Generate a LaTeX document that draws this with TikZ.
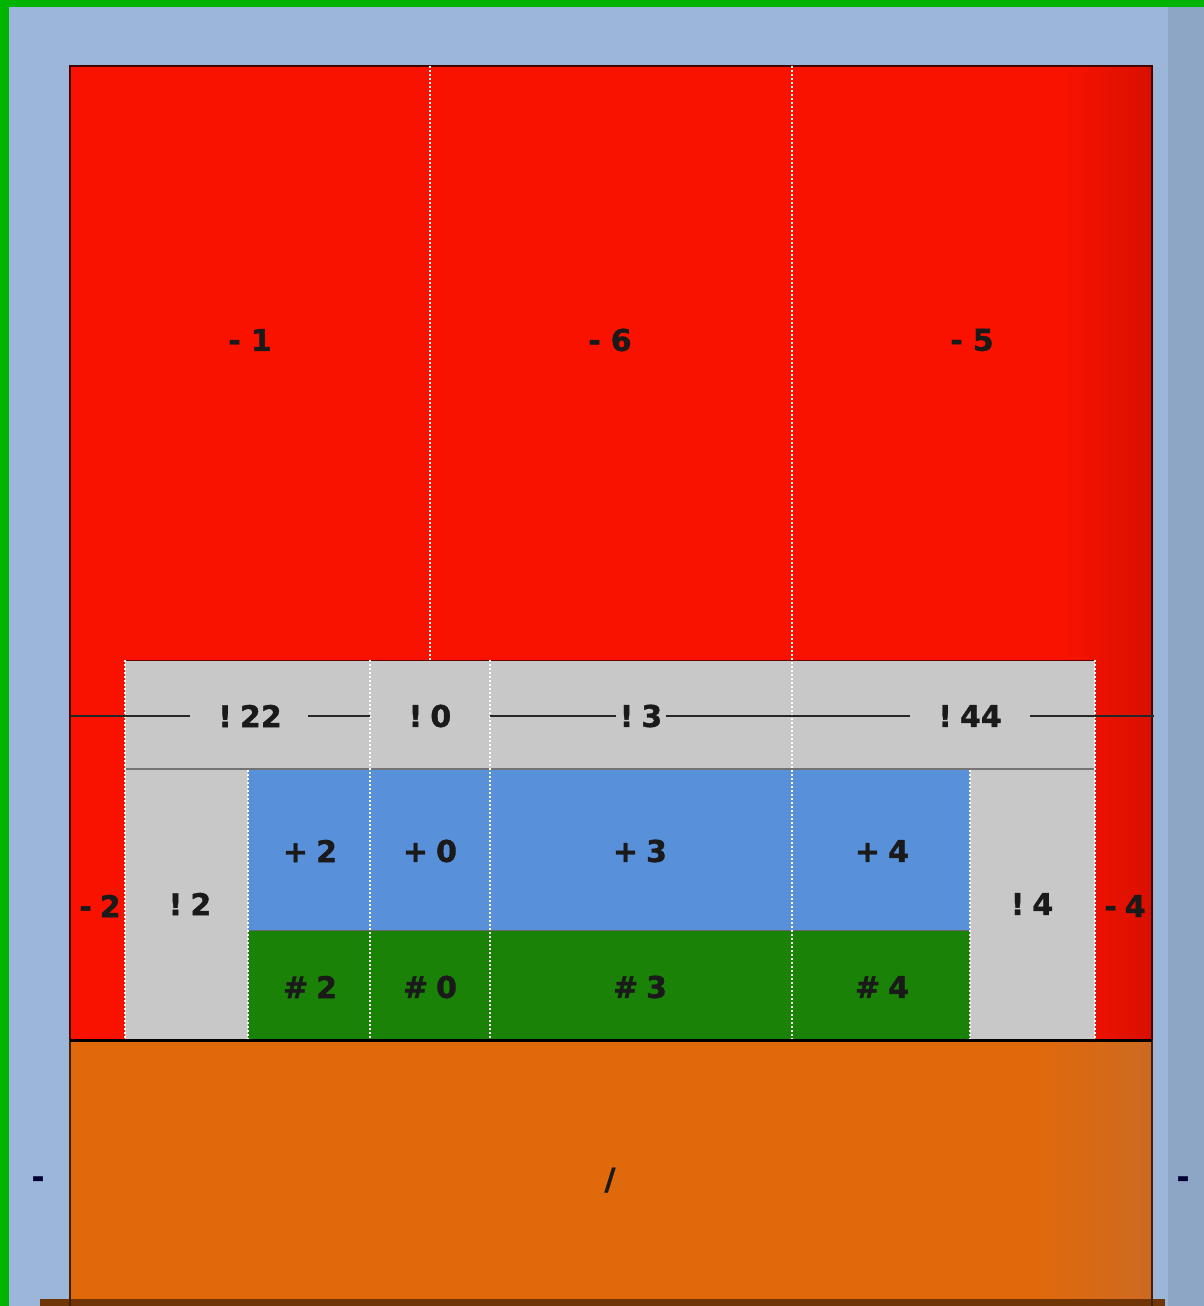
\documentclass[tikz,border=0pt]{standalone}
\usepackage{fontspec}
\setmainfont{DejaVu Sans}[BoldFeatures={FakeBold=1.2}]
\definecolor{framegreen}{HTML}{00B400}
\definecolor{bgblue}{HTML}{9CB6DA}
\definecolor{bgright}{HTML}{8EA6C6}
\definecolor{redc}{HTML}{FA1200}
\definecolor{reddark}{HTML}{D81000}
\definecolor{grayc}{HTML}{C8C8C8}
\definecolor{bluec}{HTML}{5890DA}
\definecolor{greenc}{HTML}{1A8206}
\definecolor{orangec}{HTML}{E0690C}
\definecolor{orangedark}{HTML}{CC6A22}
\definecolor{txt}{HTML}{1A1A1A}
\begin{document}
\begin{tikzpicture}[x=1pt,y=-1pt,
  lbl/.style={font=\fontsize{30}{36}\bfseries\selectfont, text=txt, inner sep=0pt},
  dotline/.style={white, dash pattern=on 2pt off 2pt, line width=2pt},
  divline/.style={black!85, line width=2.4pt}]
\useasboundingbox (0,0) rectangle (1204,1306);
% background
\fill[framegreen] (0,0) rectangle (1204,1306);
\fill[bgblue] (9,7) rectangle (1204,1306);
\fill[bgright] (1168,7) rectangle (1204,1306);
% red area
\fill[redc] (70,66) rectangle (1152,1040);
\shade[left color=redc, right color=reddark] (1060,66) rectangle (1152,1040);
% orange area
\fill[orangec] (70,1040) rectangle (1152,1306);
\shade[left color=orangec, right color=orangedark] (1040,1040) rectangle (1152,1306);
\fill[black!50!orangec] (40,1299) rectangle (1165,1306);
% outer borders
\draw[black!75!red, line width=1.5pt] (70,1040) -- (70,66) -- (1152,66) -- (1152,1040);
\draw[black!70!orangec, line width=2pt] (70,1040) -- (70,1306) (1152,1040) -- (1152,1306);
% gray band
\fill[grayc] (125,660) rectangle (1095,1040);
\draw[black!60!red, line width=1pt] (125,660) -- (1095,660);
\draw[gray!90!black, line width=2pt] (125,769) -- (1095,769);
% blue and green
\fill[bluec] (248,770) rectangle (970,930);
\fill[greenc] (248,930) rectangle (970,1040);
\draw[black!60, line width=1pt] (248,930) -- (970,930);
% dotted dividers
\draw[dotline] (430,66) -- (430,660);
\draw[dotline] (792,66) -- (792,1040);
\draw[dotline] (370,660) -- (370,1040);
\draw[dotline] (490,660) -- (490,1040);
\draw[dotline] (125,660) -- (125,1040);
\draw[dotline] (1095,660) -- (1095,1040);
\draw[dotline] (248,770) -- (248,1040);
\draw[dotline] (970,770) -- (970,1040);
% orange top line
\draw[black, line width=3pt] (70,1040) -- (1152,1040);
% labels
\node[lbl] (m1) at (250,340) {-\kern10pt1};
\node[lbl] (m6) at (610,340) {-\kern10pt6};
\node[lbl] (m5) at (972,340) {-\kern10pt5};
\node[lbl] (e22) at (250,716) {!\kern8pt22};
\node[lbl] (e0) at (430,716) {!\kern8pt0};
\node[lbl] (e3) at (641,716) {!\kern8pt3};
\node[lbl] (e44) at (970,716) {!\kern8pt44};
\node[lbl] (p2) at (310,851) {+\kern8pt2};
\node[lbl] (p0) at (430,851) {+\kern8pt0};
\node[lbl] (p3) at (640,851) {+\kern8pt3};
\node[lbl] (p4) at (882,851) {+\kern8pt4};
\node[lbl] (e2) at (190,904) {!\kern8pt2};
\node[lbl] (e4) at (1032,904) {!\kern8pt4};
\node[lbl] (m2) at (100,906) {-\kern8pt2};
\node[lbl] (m4) at (1125,906) {-\kern8pt4};
\node[lbl] (h2) at (310,987) {\#\kern8pt2};
\node[lbl] (h0) at (430,987) {\#\kern8pt0};
\node[lbl] (h3) at (640,987) {\#\kern8pt3};
\node[lbl] (h4) at (882,987) {\#\kern8pt4};
\node[lbl] (sl) at (610,1180) {/};
\node[lbl, text=black!80!blue] (dl) at (38,1182) {-};
\node[lbl, text=black!80!blue] (dr) at (1183,1182) {-};
% horizontal divider with gaps at labels
\coordinate (hl0) at (70,716);
\coordinate (hl1) at (190,716);
\coordinate (hl2) at (308,716);
\coordinate (hl3) at (370,716);
\coordinate (hl4) at (490,716);
\coordinate (hl5) at (910,716);
\coordinate (hl6) at (1030,716);
\coordinate (hl7) at (1154,716);
\draw[divline] (hl0) -- (hl1);
\draw[divline] (hl2) -- (hl3);
\draw[divline] (hl4) -- ([xshift=-4pt]e3.west);
\draw[divline] ([xshift=4pt]e3.east) -- (hl5);
\draw[divline] (hl6) -- (hl7);
\end{tikzpicture}
\end{document}
